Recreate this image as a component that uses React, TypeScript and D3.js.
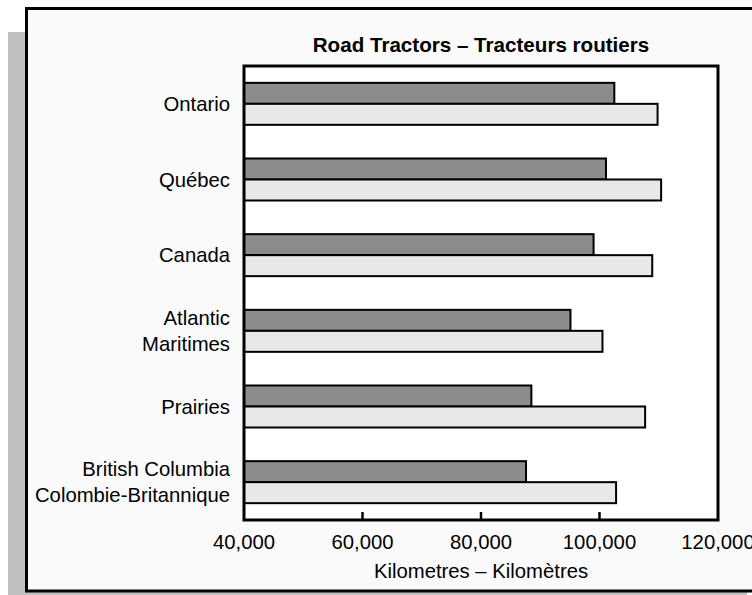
/**
 * Road tractors: average kilometres by region, two series per region.
 * Horizontal grouped bars drawn with D3 inside a framed panel with a drop shadow.
 */
import { useEffect, useRef } from 'react'
import * as d3 from 'd3'

const REGIONS = ['Ontario', 'Québec', 'Canada', 'Atlantic|Maritimes', 'Prairies', 'British Columbia|Colombie-Britannique']
const SERIES_DARK = [102500, 101100, 99000, 95100, 88500, 87600]
const SERIES_LIGHT = [109800, 110400, 108900, 100500, 107700, 102800]
const X_TICKS = [40000, 60000, 80000, 100000, 120000]

const W = 752
const H = 595
const PLOT = { left: 244, top: 66, right: 718, bottom: 520 }
const FONT = '"Liberation Sans", Arial, sans-serif'
const FS = 20.3

export default function App() {
  const svgRef = useRef<SVGSVGElement>(null)

  useEffect(() => {
    if (!svgRef.current) return
    const svg = d3.select(svgRef.current)
    svg.selectAll('*').remove()

    // Shadow + frame
    svg.append('rect')
      .attr('x', 8).attr('y', 32).attr('width', 739).attr('height', 600)
      .attr('fill', '#c0c0c0')
    svg.append('rect')
      .attr('x', 26.5).attr('y', 8.5).attr('width', 760).attr('height', 582.5)
      .attr('fill', '#fafafa').attr('stroke', '#000').attr('stroke-width', 3)

    const x = d3.scaleLinear().domain([40000, 120000]).range([PLOT.left, PLOT.right])
    const y = d3.scaleBand<string>()
      .domain(REGIONS)
      .range([PLOT.top, PLOT.bottom])
      .paddingInner(0.445)
      .paddingOuter(0.2225)
    const bw = y.bandwidth() / 2

    // Plot area
    svg.append('rect')
      .attr('x', PLOT.left).attr('y', PLOT.top)
      .attr('width', PLOT.right - PLOT.left).attr('height', PLOT.bottom - PLOT.top)
      .attr('fill', '#fff')

    const rows = REGIONS.map((r, i) => ({ r, dark: SERIES_DARK[i], light: SERIES_LIGHT[i] }))

    svg.selectAll('.bar-dark').data(rows).join('rect')
      .attr('x', x(40000))
      .attr('y', d => y(d.r)!)
      .attr('width', d => x(d.dark) - x(40000))
      .attr('height', bw)
      .attr('fill', '#8c8c8c').attr('stroke', '#000').attr('stroke-width', 2)

    svg.selectAll('.bar-light').data(rows).join('rect')
      .attr('x', x(40000))
      .attr('y', d => y(d.r)! + bw)
      .attr('width', d => x(d.light) - x(40000))
      .attr('height', bw)
      .attr('fill', '#e8e8e8').attr('stroke', '#000').attr('stroke-width', 2)

    // Ticks (inward) and frame
    svg.selectAll('.tick').data(X_TICKS.slice(1, -1)).join('line')
      .attr('x1', d => x(d)).attr('x2', d => x(d))
      .attr('y1', PLOT.bottom - 8).attr('y2', PLOT.bottom)
      .attr('stroke', '#000').attr('stroke-width', 2.5)

    svg.append('rect')
      .attr('x', PLOT.left).attr('y', PLOT.top)
      .attr('width', PLOT.right - PLOT.left).attr('height', PLOT.bottom - PLOT.top)
      .attr('fill', 'none').attr('stroke', '#000').attr('stroke-width', 3)

    svg.selectAll('.tick-label').data(X_TICKS).join('text')
      .attr('x', d => x(d)).attr('y', 549)
      .attr('text-anchor', 'middle')
      .attr('font-family', FONT).attr('font-size', FS).attr('fill', '#000')
      .text(d => d3.format(',')(d))

    // Category labels
    rows.forEach(d => {
      const lines = d.r.split('|')
      const cy = y(d.r)! + y.bandwidth() / 2
      const lh = 26
      const t = svg.append('text')
        .attr('text-anchor', 'end')
        .attr('font-family', FONT).attr('font-size', FS).attr('fill', '#000')
      lines.forEach((ln, i) => {
        t.append('tspan')
          .attr('x', 230)
          .attr('y', cy + 7 + (i - (lines.length - 1) / 2) * lh)
          .text(ln)
      })
    })

    svg.append('text')
      .attr('x', (PLOT.left + PLOT.right) / 2).attr('y', 52)
      .attr('text-anchor', 'middle')
      .attr('font-family', FONT).attr('font-size', 20.6).attr('font-weight', 'bold')
      .text('Road Tractors – Tracteurs routiers')

    svg.append('text')
      .attr('x', (PLOT.left + PLOT.right) / 2).attr('y', 578)
      .attr('text-anchor', 'middle')
      .attr('font-family', FONT).attr('font-size', FS)
      .text('Kilometres – Kilomètres')
  }, [])

  return (
    <svg
      ref={svgRef}
      width={W}
      height={H}
      style={{ position: 'fixed', top: 0, left: 0, display: 'block', background: '#fff' }}
    />
  )
}
